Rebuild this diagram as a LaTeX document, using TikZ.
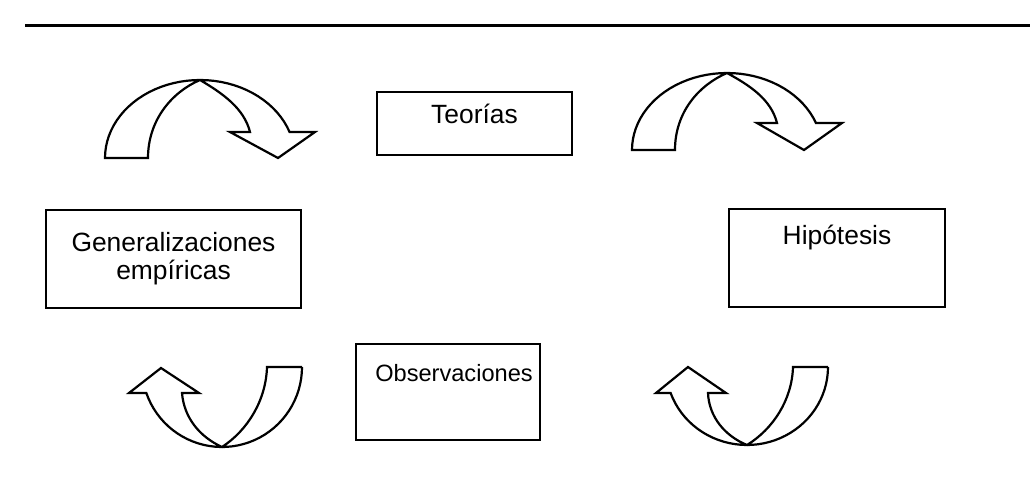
\documentclass[tikz,border=0pt]{standalone}
\usepackage{fontspec}
\setmainfont{Liberation Sans}
\usetikzlibrary{positioning}

\begin{document}
\begin{tikzpicture}[x=0.5pt,y=-0.5pt,
  main node/.style={draw,line width=1.1pt,inner sep=0pt},
  box text/.style={inner sep=0pt,align=center,font=\fontsize{13.2pt}{14.2pt}\selectfont},
  block arrow/.style={draw,line width=1.1pt,fill=white}]

  \useasboundingbox (0,0) rectangle (1030,503);
  \draw[line width=1.5pt] (25,25) -- (1030,25);

  \node[main node,minimum width=97.5pt,minimum height=31.5pt] (teo) at (474.5,123.5) {};
  \node[box text,below=6.5pt of teo.north] (teo text) {Teorías};

  \node[main node,minimum width=108pt,minimum height=49pt] (hip) at (837,258) {};
  \node[box text,below=8.6pt of hip.north] (hip text) {Hipótesis};

  \node[main node,minimum width=92pt,minimum height=48pt] (obs) at (448,392) {};
  \node[box text,font=\fontsize{11.8pt}{12.8pt}\selectfont,below=10.5pt of obs.north,xshift=3pt] (obs text) {Observaciones};

  \node[main node,minimum width=127.5pt,minimum height=49pt] (gen) at (173.5,259) {};
  \node[box text,below=11.5pt of gen.north] (gen text) {Generalizaciones\\empíricas};

  \draw[block arrow] (105,158)
    -- plot[domain=180:19.5,variable=\t,samples=40] ({200+95*cos(\t)},{158-78*sin(\t)})
    -- (315,132) -- (278,158) -- (230,132) -- (250,132)
    .. controls (244,108) and (222,93) .. (200,80)
    .. controls (172,92) and (148,120) .. (148,158)
    -- cycle;

  \draw[block arrow] (632,150)
    -- plot[domain=180:20.5,variable=\t,samples=40] ({727+95*cos(\t)},{150-77*sin(\t)})
    -- (842,123) -- (804,150) -- (757,123) -- (777,123)
    .. controls (771,99) and (749,85) .. (727,73)
    .. controls (699,85) and (675,112) .. (675,150)
    -- cycle;

  \draw[block arrow] (302,367) -- (267,367)
    .. controls (266,400) and (248,430) .. (222,447)
    .. controls (200,437) and (184,418) .. (182,393)
    -- (199,393) -- (161,368) -- (129,393)
    -- plot[domain=161:0,variable=\t,samples=40] ({222+80*cos(\t)},{367+80*sin(\t)})
    -- cycle;

  \draw[block arrow] (828,367) -- (793,367)
    .. controls (792,400) and (773,429) .. (747,445)
    .. controls (725,436) and (709,417) .. (708,393)
    -- (726,393) -- (688,367) -- (656,393)
    -- plot[domain=160.5:0,variable=\t,samples=40] ({747+81*cos(\t)},{367+78*sin(\t)})
    -- cycle;
\end{tikzpicture}
\end{document}
